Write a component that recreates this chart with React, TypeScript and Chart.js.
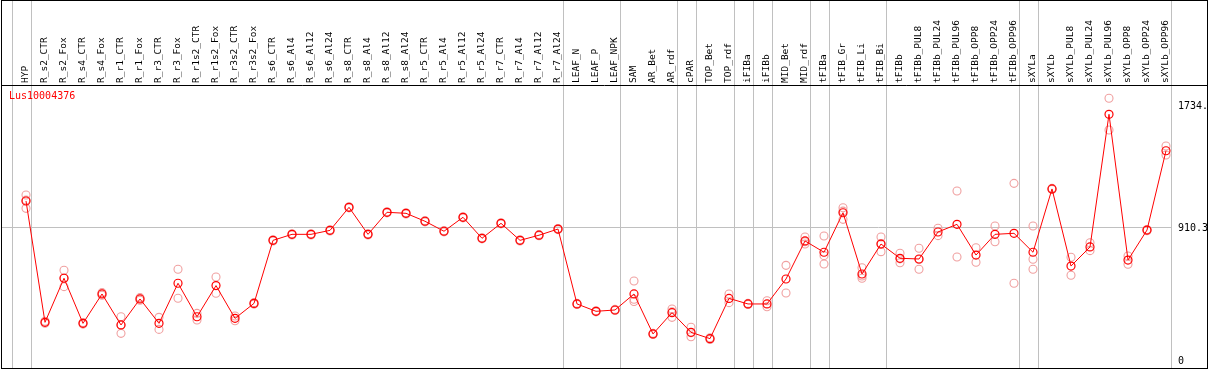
import React, { useEffect, useRef } from "react";
import { Chart, registerables } from "chart.js";
Chart.register(...registerables);

const title = "Lus10004376";

const categories = [
  "HYP", "R_s2_CTR", "R_s2_Fox", "R_s4_CTR", "R_s4_Fox", "R_r1_CTR", "R_r1_Fox", "R_r3_CTR", "R_r3_Fox",
  "R_r1s2_CTR", "R_r1s2_Fox", "R_r3s2_CTR", "R_r3s2_Fox", "R_s6_CTR", "R_s6_Al4", "R_s6_Al12", "R_s6_Al24",
  "R_s8_CTR", "R_s8_Al4", "R_s8_Al12", "R_s8_Al24", "R_r5_CTR", "R_r5_Al4", "R_r5_Al12", "R_r5_Al24",
  "R_r7_CTR", "R_r7_Al4", "R_r7_Al12", "R_r7_Al24", "LEAF_N", "LEAF_P", "LEAF_NPK", "SAM", "AR_Bet", "AR_rdf",
  "cPAR", "TOP_Bet", "TOP_rdf", "iFIBa", "iFIBb", "MID_Bet", "MID_rdf", "tFIBa", "tFIB_Gr", "tFIB_Li", "tFIB_Bi",
  "tFIBb", "tFIBb_PUL8", "tFIBb_PUL24", "tFIBb_PUL96", "tFIBb_OPP8", "tFIBb_OPP24", "tFIBb_OPP96",
  "sXYLa", "sXYLb", "sXYLb_PUL8", "sXYLb_PUL24", "sXYLb_PUL96", "sXYLb_OPP8", "sXYLb_OPP24", "sXYLb_OPP96",
];

const meanValues = [
  1094, 268, 568, 261, 461, 250, 427, 261, 534, 306, 518, 295, 397, 826, 867, 867, 894, 1051, 867, 1017,
  1010, 956, 888, 983, 840, 942, 826, 861, 903, 393, 343, 352, 461, 189, 334, 200, 157, 431, 393, 393,
  563, 822, 745, 1014, 597, 801, 704, 699, 883, 935, 726, 867, 874, 745, 1176, 651, 781, 1684, 692, 896, 1436,
];

const repA = [
  1135, 275, 622, 266, 470, 306, 436, 302, 629, 329, 577, 311, 402, 830, 871, 871, 898, 1055, 871, 1021,
  1014, 960, 892, 987, 844, 946, 830, 865, 907, 397, 347, 356, 549, 193, 359, 234, 163, 461, 397, 415,
  656, 849, 856, 1048, 640, 849, 738, 772, 908, 1162, 776, 924, 1214, 924, 1180, 711, 810, 1793, 720, 900, 1468,
];

const repB = [
  1044, 262, 511, 256, 452, 193, 418, 220, 432, 284, 466, 279, 392, 822, 863, 863, 890, 1047, 863, 1013,
  1006, 952, 884, 979, 836, 938, 822, 857, 899, 389, 339, 348, 425, 185, 302, 170, 151, 402, 389, 374,
  468, 801, 665, 969, 568, 749, 674, 629, 858, 713, 677, 817, 534, 697, 1172, 588, 756, 1577, 663, 892, 1407,
];

const repC = [
  1100, null, 570, null, null, 250, null, null, null, null, null, null, null, null, null, null, null, null, null, null,
  null, null, null, null, null, null, null, null, null, null, null, null, 410, null, 340, 197, null, null, null, null,
  null, 816, 722, 1025, 583, 805, 700, 696, null, null, null, null, null, 629, null, null, null, null, null, null, null,
];

const yTickValues = [0, 910.3, 1734.5];
const yTickLabels = ["0", "910.3", "1734."];
const groupBoundaries = [-1, 0, 28, 31, 34, 35, 37, 38, 39, 41, 42, 45, 52, 53, 60];

const MONO = "'DejaVu Sans Mono', 'Liberation Mono', monospace";

const framePlugin = {
  id: "framePlugin",
  beforeDraw(chart: any) {
    const ctx = chart.ctx;
    const xs = chart.scales.x;
    ctx.save();
    ctx.strokeStyle = "#c0c0c0";
    ctx.lineWidth = 1;
    for (const b of groupBoundaries) {
      const px = Math.round(xs.getPixelForValue(b + 0.24)) + 0.5;
      ctx.beginPath();
      ctx.moveTo(px, 0);
      ctx.lineTo(px, 368);
      ctx.stroke();
    }
    // category labels, placed by the x scale
    ctx.fillStyle = "#000";
    ctx.font = `9.5px ${MONO}`;
    ctx.textAlign = "left";
    ctx.textBaseline = "middle";
    categories.forEach((c, i) => {
      const px = xs.getPixelForValue(i);
      ctx.save();
      ctx.translate(px, 83);
      ctx.rotate(-Math.PI / 2);
      ctx.fillText(c, 0, 0);
      ctx.restore();
    });
    ctx.restore();
  },
  afterDraw(chart: any) {
    const ctx = chart.ctx;
    ctx.save();
    ctx.strokeStyle = "#000";
    ctx.lineWidth = 1;
    ctx.strokeRect(1.5, 0.5, 1206, 368);
    ctx.beginPath();
    ctx.moveTo(1, 85.5);
    ctx.lineTo(1208, 85.5);
    ctx.stroke();
    ctx.fillStyle = "#ff0000";
    ctx.font = `10px ${MONO}`;
    ctx.textBaseline = "top";
    ctx.textAlign = "left";
    ctx.fillText(title, 9, 91);
    ctx.restore();
  },
};

export default function App() {
  const ref = useRef<HTMLCanvasElement | null>(null);
  useEffect(() => {
    if (!ref.current) return;
    const repPoints: { x: number; y: number }[] = [];
    [repA, repB, repC].forEach((arr) =>
      arr.forEach((v, i) => {
        if (v !== null && v !== undefined) repPoints.push({ x: i, y: v as number });
      })
    );
    const chart = new Chart(ref.current, {
      type: "line",
      data: {
        datasets: [
          {
            data: meanValues.map((v, i) => ({ x: i, y: v })),
            borderColor: "#ff0000",
            borderWidth: 1,
            pointRadius: 4,
            pointBorderColor: "#ff0000",
            pointBackgroundColor: "rgba(0,0,0,0)",
            pointBorderWidth: 1.2,
            tension: 0,
          },
          {
            data: repPoints,
            showLine: false,
            pointRadius: 4,
            pointBorderColor: "#f0a0a0",
            pointBackgroundColor: "rgba(0,0,0,0)",
            pointBorderWidth: 1.1,
          },
        ],
      },
      options: {
        responsive: false,
        animation: false,
        events: [],
        layout: { autoPadding: false, padding: { left: 1, right: 1, top: 0, bottom: 2 } },
        plugins: { legend: { display: false }, tooltip: { enabled: false } },
        scales: {
          x: {
            type: "linear",
            position: "top",
            min: -1.316,
            max: 60.263,
            afterFit: (s: any) => {
              s.height = 86;
              s.paddingLeft = 0;
              s.paddingRight = 0;
            },
            grid: { display: false, drawTicks: false },
            border: { display: false },
            ticks: { display: false },
          },
          y: {
            type: "linear",
            position: "right",
            min: -42.9,
            max: 1876.7,
            afterBuildTicks: (s: any) => {
              s.ticks = yTickValues.map((v) => ({ value: v }));
            },
            afterFit: (s: any) => {
              s.width = 37;
              s.paddingTop = 0;
              s.paddingBottom = 0;
            },
            grid: {
              drawTicks: false,
              color: (c: any) => (c.tick && c.tick.value === 910.3 ? "#c0c0c0" : "rgba(0,0,0,0)"),
            },
            border: { display: false },
            ticks: {
              padding: 7,
              color: "#000",
              font: { family: MONO, size: 10 },
              callback: (_v: any, i: number) => yTickLabels[i],
            },
          },
        },
      },
      plugins: [framePlugin],
    });
    return () => chart.destroy();
  }, []);
  return (
    <div style={{ position: "fixed", left: 0, top: 0, width: 1209, height: 370, background: "#fff" }}>
      <canvas ref={ref} width={1209} height={370} />
    </div>
  );
}
